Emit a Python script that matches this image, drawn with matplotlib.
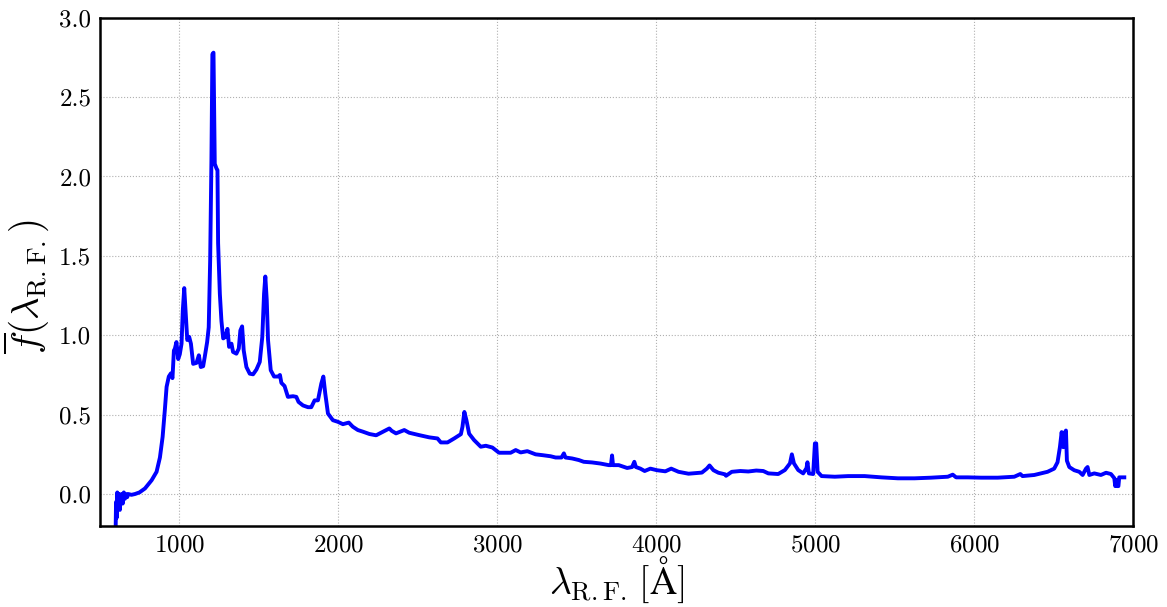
import matplotlib
matplotlib.use("Agg")
import matplotlib.pyplot as plt

plt.rcParams['font.family'] = 'serif'
plt.rcParams['font.serif'] = ['cmr10']
plt.rcParams['mathtext.fontset'] = 'cm'
plt.rcParams['axes.formatter.use_mathtext'] = True

wavelength = [
    601, 603, 607, 611, 617, 621, 627, 632, 638, 645, 652, 659, 666, 673, 680, 700, 722, 750, 785,
    827, 858, 879, 896, 910, 921, 935, 948, 958, 967, 973, 983, 994, 1004, 1015,
    1023, 1032, 1040, 1051, 1063, 1074, 1088, 1109, 1124, 1136, 1151, 1161, 1176,
    1186, 1195, 1203, 1209, 1216, 1220, 1224, 1235, 1241, 1245, 1256, 1266, 1277,
    1291, 1304, 1314, 1329, 1339, 1360, 1375, 1385, 1396, 1406, 1423, 1444, 1465,
    1486, 1507, 1523, 1534, 1542, 1551, 1559, 1576, 1597, 1622, 1634, 1643, 1663,
    1684, 1716, 1737, 1751, 1779, 1810, 1831, 1852, 1873, 1894, 1907, 1919, 1936,
    1967, 1998, 2030, 2067, 2092, 2124, 2155, 2197, 2239, 2270, 2322, 2337,
    2364, 2416, 2447, 2510, 2573, 2625, 2646, 2688, 2730, 2772, 2782, 2794, 2807,
    2824, 2855, 2897, 2929, 2970, 3012, 3085, 3117, 3148, 3190, 3242, 3284, 3336,
    3368, 3405, 3420, 3430, 3472, 3514, 3545, 3597, 3650, 3702, 3716, 3723, 3729,
    3765, 3818, 3849, 3863, 3873, 3901, 3928, 3964, 4005, 4058, 4095, 4141, 4204,
    4288, 4319, 4336, 4361, 4392, 4434, 4440, 4476, 4530,
    4580, 4630, 4674, 4706, 4768, 4810, 4842, 4854, 4867, 4894, 4925, 4946, 4952, 4961,
    4988, 4999, 5007, 5016, 5041, 5124, 5208, 5312, 5417, 5521, 5626, 5730, 5835,
    5866, 5887, 5961, 6044, 6149, 6253, 6291, 6305, 6379, 6462, 6504, 6525, 6540,
    6551, 6561, 6567, 6578, 6584, 6599, 6630, 6662, 6683, 6704, 6714, 6725, 6756,
    6798, 6830, 6861, 6882, 6888, 6893, 6900, 6908, 6913, 6945,
]
flux = [
    -0.19, -0.05, -0.15, 0.01, -0.08, 0.0, -0.10, -0.02, 0.0, -0.06, 0.01, -0.03, 0.0, -0.02, 0.0, -0.005, 0.0, 0.01, 0.035,
    0.087, 0.14, 0.23, 0.36, 0.53, 0.675, 0.74, 0.76, 0.73, 0.904, 0.915, 0.957, 0.85, 0.88, 0.947,
    1.157, 1.297, 1.157, 0.97, 0.99, 0.947, 0.82, 0.826, 0.874, 0.80, 0.805, 0.864, 0.957,
    1.05, 1.47, 2.10, 2.77, 2.78, 2.41, 2.08, 2.05, 2.04, 1.58, 1.26, 1.09, 0.98,
    0.99, 1.04, 0.927, 0.947, 0.895, 0.884, 0.916, 1.03, 1.056, 0.905, 0.80, 0.758, 0.754,
    0.784, 0.832, 0.99, 1.26, 1.37, 1.22, 0.97, 0.78, 0.74, 0.74, 0.75, 0.70, 0.68,
    0.612, 0.616, 0.612, 0.58, 0.558, 0.547, 0.547, 0.59, 0.59, 0.695, 0.74, 0.633, 0.507,
    0.465, 0.455, 0.44, 0.45, 0.424, 0.403, 0.393, 0.378, 0.37, 0.386, 0.413, 0.398,
    0.382, 0.403, 0.386, 0.371, 0.357, 0.35, 0.325, 0.325, 0.35, 0.377, 0.423, 0.517, 0.465,
    0.38, 0.34, 0.298, 0.304, 0.293, 0.26, 0.26, 0.277, 0.262, 0.27, 0.25, 0.245, 0.238,
    0.23, 0.23, 0.256, 0.23, 0.224, 0.214, 0.203, 0.199, 0.192, 0.182, 0.182, 0.243, 0.182,
    0.182, 0.164, 0.17, 0.203, 0.17, 0.16, 0.145, 0.16, 0.15, 0.143, 0.16, 0.14, 0.128,
    0.135, 0.16, 0.18, 0.15, 0.134, 0.124, 0.115, 0.14, 0.145,
    0.142, 0.148, 0.145, 0.13, 0.126, 0.151, 0.193, 0.25, 0.193, 0.151, 0.13, 0.163, 0.20, 0.13,
    0.126, 0.319, 0.319, 0.14, 0.113, 0.109, 0.113, 0.113, 0.105, 0.099, 0.099, 0.103, 0.109,
    0.122, 0.105, 0.105, 0.103, 0.103, 0.109, 0.126, 0.113, 0.12, 0.14, 0.16, 0.20, 0.295,
    0.39, 0.295, 0.38, 0.40, 0.21, 0.17, 0.15, 0.14, 0.12, 0.16, 0.17, 0.12, 0.13,
    0.12, 0.134, 0.126, 0.10, 0.05, 0.09, 0.05, 0.05, 0.105, 0.105,
]

x_ticks = [1000, 2000, 3000, 4000, 5000, 6000, 7000]
y_ticks = [0.0, 0.5, 1.0, 1.5, 2.0, 2.5, 3.0]

fig = plt.figure(figsize=(11.67, 6.07), dpi=100)
ax = fig.add_axes([0.0854, 0.1338, 0.8855, 0.8370])
ax.plot(wavelength, flux, color='#0000ff', lw=2.8, solid_joinstyle='round')
ax.set_xlim(500, 7000)
ax.set_ylim(-0.2, 3.0)
ax.set_xticks(x_ticks)
ax.set_yticks(y_ticks)
ax.set_yticklabels([f"{v:.1f}" for v in y_ticks])
ax.tick_params(axis='both', length=0, labelsize=18, pad=6)
ax.grid(True, color='#b0b0b0', linestyle=':', linewidth=0.8)
for s in ax.spines.values():
    s.set_linewidth(1.8)
ax.set_xlabel(r'$\lambda_{\mathrm{R.F.}}\,[\mathrm{\AA}]$', fontsize=27, labelpad=-1)
ax.set_ylabel(r'$\overline{f}(\lambda_{\mathrm{R.F.}})$', fontsize=28)
ax.yaxis.set_label_coords(-0.047, 0.47)
fig.savefig('out.png', dpi=100)
